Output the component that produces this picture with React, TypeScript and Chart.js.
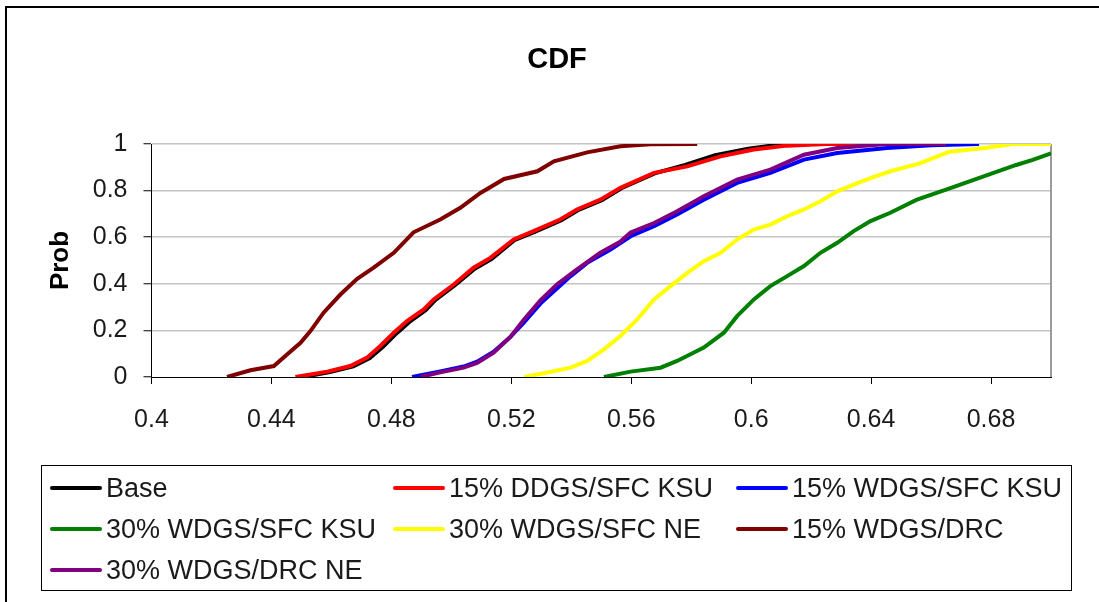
import { useEffect, useRef } from "react";
import { Chart, registerables } from "chart.js";

Chart.register(...registerables);

const FONT = '"Liberation Sans", Arial, sans-serif';

// axis ticks
const xTicks = [0.4, 0.44, 0.48, 0.52, 0.56, 0.6, 0.64, 0.68];
const yTicks = [0, 0.2, 0.4, 0.6, 0.8, 1];

// series (x = value, y = cumulative prob)
const base: [number, number][] = [
  [0.4505, 0], [0.4595, 0.021], [0.4673, 0.046], [0.4728, 0.081], [0.4772, 0.13], [0.4816, 0.186], [0.486, 0.236],
  [0.4914, 0.287], [0.4947, 0.331], [0.5012, 0.394], [0.5078, 0.465], [0.5135, 0.507], [0.521, 0.587], [0.5278, 0.623],
  [0.5367, 0.673], [0.5422, 0.716], [0.5502, 0.759], [0.5567, 0.81], [0.5678, 0.874], [0.578, 0.91], [0.588, 0.952],
  [0.599, 0.98], [0.608, 0.995], [0.614, 1], [0.625, 1],
];
const ddgsSfcKsu15: [number, number][] = [
  [0.448, 0], [0.4586, 0.023], [0.4663, 0.047], [0.4719, 0.083], [0.4763, 0.133], [0.4808, 0.19], [0.4852, 0.24],
  [0.4908, 0.29], [0.4941, 0.333], [0.5008, 0.397], [0.5074, 0.469], [0.513, 0.511], [0.5208, 0.59], [0.5274, 0.626],
  [0.5363, 0.676], [0.5419, 0.719], [0.5497, 0.761], [0.5564, 0.812], [0.5676, 0.876], [0.5787, 0.904], [0.5898, 0.947],
  [0.6009, 0.976], [0.612, 0.993], [0.625, 1], [0.64, 1],
];
const wdgsSfcKsu15: [number, number][] = [
  [0.4869, 0], [0.4963, 0.024], [0.5041, 0.045], [0.5086, 0.066], [0.5141, 0.108], [0.5197, 0.172], [0.5241, 0.232],
  [0.5297, 0.315], [0.5352, 0.38], [0.5398, 0.433], [0.5453, 0.49], [0.5531, 0.547], [0.5598, 0.604], [0.5676, 0.647],
  [0.5753, 0.697], [0.5842, 0.761], [0.5953, 0.833], [0.6064, 0.876], [0.6176, 0.933], [0.6287, 0.961], [0.6453, 0.983],
  [0.66, 0.995], [0.676, 1],
];
const wdgsSfcKsu30: [number, number][] = [
  [0.5509, 0], [0.5598, 0.023], [0.5698, 0.04], [0.5753, 0.069], [0.5842, 0.126], [0.5909, 0.19], [0.5953, 0.261],
  [0.6009, 0.333], [0.6064, 0.39], [0.612, 0.433], [0.6176, 0.476], [0.6231, 0.533], [0.6287, 0.576], [0.6342, 0.626],
  [0.6398, 0.669], [0.6464, 0.705], [0.6551, 0.76], [0.6662, 0.81], [0.6773, 0.86], [0.6884, 0.91], [0.6939, 0.932],
  [0.7, 0.96],
];
const wdgsSfcNe30: [number, number][] = [
  [0.5242, 0], [0.532, 0.019], [0.5398, 0.04], [0.5453, 0.069], [0.5509, 0.119], [0.5564, 0.176], [0.562, 0.247],
  [0.5676, 0.333], [0.5731, 0.39], [0.5787, 0.447], [0.5842, 0.497], [0.5898, 0.533], [0.5953, 0.59], [0.6009, 0.633],
  [0.6064, 0.654], [0.612, 0.69], [0.6176, 0.719], [0.6231, 0.754], [0.6287, 0.797], [0.6342, 0.826], [0.6398, 0.854],
  [0.6464, 0.883], [0.6562, 0.917], [0.6662, 0.967], [0.6772, 0.982], [0.6872, 1], [0.7, 1],
];
const wdgsDrc15: [number, number][] = [
  [0.4252, 0], [0.433, 0.029], [0.4408, 0.047], [0.4452, 0.097], [0.4497, 0.147], [0.453, 0.197], [0.4574, 0.276],
  [0.463, 0.354], [0.4686, 0.421], [0.4741, 0.469], [0.4808, 0.533], [0.4874, 0.621], [0.4963, 0.676], [0.503, 0.726],
  [0.5097, 0.79], [0.5176, 0.85], [0.5287, 0.883], [0.5342, 0.926], [0.5453, 0.964], [0.5564, 0.99], [0.5664, 0.999],
  [0.582, 1],
];
const wdgsDrcNe30: [number, number][] = [
  [0.4897, 0], [0.4963, 0.02], [0.5041, 0.04], [0.5086, 0.06], [0.5141, 0.104], [0.5197, 0.172], [0.5241, 0.245],
  [0.5297, 0.329], [0.5352, 0.397], [0.5419, 0.462], [0.5497, 0.533], [0.5563, 0.58], [0.5598, 0.62], [0.5676, 0.661],
  [0.5753, 0.711], [0.5842, 0.776], [0.5953, 0.847], [0.6064, 0.89], [0.6176, 0.954], [0.6287, 0.983], [0.645, 1],
  [0.665, 1],
];

const seriesNames = [
  "Base", "15% DDGS/SFC KSU", "15% WDGS/SFC KSU", "30% WDGS/SFC KSU",
  "30% WDGS/SFC NE", "15% WDGS/DRC", "30% WDGS/DRC NE",
];
const seriesData = [base, ddgsSfcKsu15, wdgsSfcKsu15, wdgsSfcKsu30, wdgsSfcNe30, wdgsDrc15, wdgsDrcNe30];
const seriesColors = ["#000000", "#ff0000", "#0000ff", "#008000", "#ffff00", "#800000", "#800080"];

// legend grid placement
const legendCols = [50, 393, 736];
const legendRows = [488, 529, 570];

const plotFrame = {
  id: "plotFrame",
  beforeDatasetsDraw(chart: Chart) {
    const { ctx, chartArea: a } = chart;
    ctx.save();
    ctx.strokeStyle = "#9a9a9a";
    ctx.lineWidth = 2;
    ctx.beginPath();
    ctx.moveTo(a.right, a.top);
    ctx.lineTo(a.right, a.bottom);
    ctx.stroke();
    ctx.restore();
  },
};

export default function App() {
  const ref = useRef<HTMLCanvasElement>(null);
  useEffect(() => {
    if (!ref.current) return;
    const n = seriesData.length;
    const chart = new Chart(ref.current, {
      type: "line",
      data: {
        datasets: seriesData.map((pts, i) => ({
          label: seriesNames[i],
          data: pts.map(([x, y]) => ({ x, y })),
          borderColor: seriesColors[i],
          backgroundColor: seriesColors[i],
          borderWidth: 4,
          pointRadius: 0,
          tension: 0,
          fill: false,
          order: n - i,
        })),
      },
      options: {
        animation: false,
        responsive: true,
        maintainAspectRatio: false,
        events: [],
        layout: { padding: { left: 63, right: 48, top: 0, bottom: 165 } },
        plugins: {
          legend: { display: false },
          tooltip: { enabled: false },
          title: {
            display: true, text: "CDF", color: "#000",
            font: { family: FONT, size: 29, weight: "bold", lineHeight: 1.2 },
            padding: { top: 43, bottom: 66.2 },
          },
        },
        scales: {
          x: {
            type: "linear", min: 0.4, max: 0.7,
            afterBuildTicks: (s: any) => { s.ticks = xTicks.map((value) => ({ value })); },
            afterFit: (s: any) => { s.height = 60; },
            grid: { drawOnChartArea: false, tickColor: "#000", tickLength: 7, tickWidth: 1 },
            border: { color: "#000", width: 1 },
            ticks: { color: "#1a1a1a", padding: 21, maxRotation: 0, font: { family: FONT, size: 25 }, callback: (v: any) => String(v) },
          },
          y: {
            type: "linear", min: 0, max: 1,
            afterBuildTicks: (s: any) => { s.ticks = yTicks.map((value) => ({ value })); },
            afterFit: (s: any) => { s.width = 88.5; },
            grid: {
              color: (c: any) => (c.tick && c.tick.value === 0 ? "rgba(0,0,0,0)" : "#c4c4c4"),
              lineWidth: 1.5, tickColor: "#000", tickLength: 8, tickWidth: 1,
            },
            border: { color: "#000", width: 1 },
            ticks: { color: "#1a1a1a", padding: 16, font: { family: FONT, size: 25 }, callback: (v: any) => String(v) },
            title: {
              display: true, text: "Prob", color: "#000",
              font: { family: FONT, size: 26, weight: "bold", lineHeight: 1.2 },
              padding: { top: -17.6, bottom: 0 },
            },
          },
        },
      },
      plugins: [plotFrame],
    } as any);
    return () => chart.destroy();
  }, []);

  return (
    <div style={{ position: "fixed", left: 0, top: 0, width: 1099, height: 602, background: "#fff", overflow: "hidden", fontFamily: FONT }}>
      <div style={{ position: "absolute", left: 5, top: 6, width: 1200, height: 700, border: "2px solid #000" }} />
      <div style={{ position: "absolute", left: 0, top: 0, width: 1099, height: 602 }}>
        <canvas ref={ref} />
      </div>
      <div style={{ position: "absolute", left: 41, top: 465, width: 1029, height: 124, border: "1px solid #000" }} />
      {seriesNames.map((name, i) => (
        <div
          key={name}
          style={{
            position: "absolute", left: legendCols[i % 3], top: legendRows[Math.floor(i / 3)] - 15,
            height: 30, display: "flex", alignItems: "center", whiteSpace: "nowrap",
            fontSize: 27, color: "#1a1a1a", lineHeight: "30px",
          }}
        >
          <span style={{ display: "inline-block", width: 52, height: 4, borderRadius: 2, background: seriesColors[i], marginRight: 4 }} />
          <span>{name}</span>
        </div>
      ))}
    </div>
  );
}
